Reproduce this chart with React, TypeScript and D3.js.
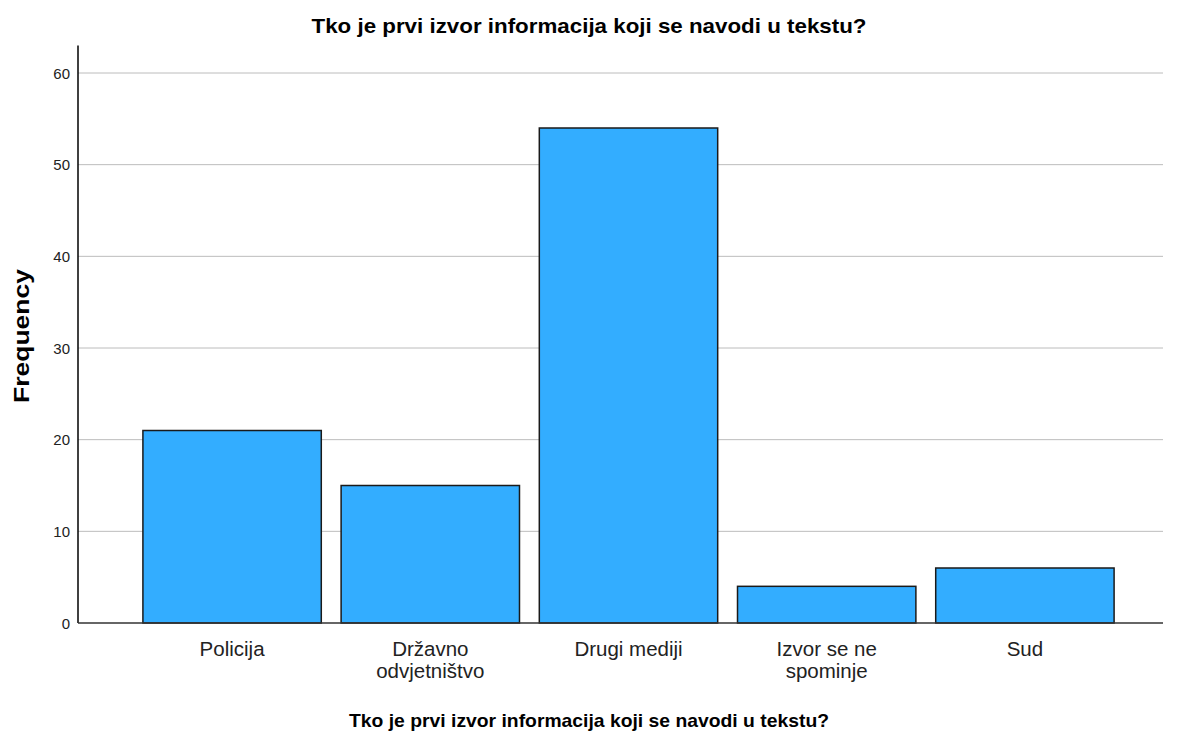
import React from "react";
import * as d3 from "d3";

const categories: string[][] = [
  ["Policija"],
  ["Državno", "odvjetništvo"],
  ["Drugi mediji"],
  ["Izvor se ne", "spominje"],
  ["Sud"],
];
const frequencies: number[] = [21, 15, 54, 4, 6];
const yTicks: number[] = [0, 10, 20, 30, 40, 50, 60];
const titleText = "Tko je prvi izvor informacija koji se navodi u tekstu?";
const xAxisTitle = "Tko je prvi izvor informacija koji se navodi u tekstu?";
const yAxisTitle = "Frequency";

const W = 1177;
const H = 733;
const FONT = "'Liberation Sans', Arial, sans-serif";

export default function App() {
  const keys = categories.map((c) => c.join(" "));
  const x = d3
    .scaleBand<string>()
    .domain(keys)
    .range([133, 1124])
    .paddingInner(0.1)
    .paddingOuter(0.05);
  const y = d3.scaleLinear().domain([0, 60]).range([623, 73]);
  const axisLeft = 78;
  const axisRight = 1163;
  const axisTop = y(63);

  return (
    <div style={{ position: "absolute", left: 0, top: 0 }}>
      <svg width={W} height={H} style={{ display: "block", background: "#fff" }}>
        <text
          x={589}
          y={33}
          textAnchor="middle"
          fontFamily={FONT}
          fontWeight="bold"
          fontSize={21}
          textLength={555}
          lengthAdjust="spacingAndGlyphs"
          fill="#000"
        >
          {titleText}
        </text>
        {yTicks
          .filter((t) => t > 0)
          .map((t) => (
            <line
              key={"g" + t}
              x1={axisLeft}
              x2={axisRight}
              y1={y(t)}
              y2={y(t)}
              stroke="#bcbcbc"
              strokeWidth={1}
            />
          ))}
        {yTicks.map((t) => (
          <text
            key={"t" + t}
            x={70}
            y={y(t) + 5.5}
            textAnchor="end"
            fontFamily={FONT}
            fontSize={15}
            fill="#222"
          >
            {t}
          </text>
        ))}
        {frequencies.map((v, i) => (
          <rect
            key={"b" + i}
            x={x(keys[i])!}
            y={y(v)}
            width={x.bandwidth()}
            height={y(0) - y(v)}
            fill="#33adff"
            stroke="#1a1a1a"
            strokeWidth={1.5}
          />
        ))}
        <line x1={axisLeft} x2={axisLeft} y1={axisTop} y2={y(0)} stroke="#000" strokeWidth={1.5} />
        <line x1={axisLeft} x2={axisRight} y1={y(0)} y2={y(0)} stroke="#333" strokeWidth={1.5} />
        {categories.map((lines, i) => (
          <text
            key={"c" + i}
            textAnchor="middle"
            fontFamily={FONT}
            fontSize={20.5}
            fill="#222"
          >
            {lines.map((ln, j) => (
              <tspan key={j} x={x(keys[i])! + x.bandwidth() / 2} y={656 + j * 22}>
                {ln}
              </tspan>
            ))}
          </text>
        ))}
        <text
          x={589}
          y={727}
          textAnchor="middle"
          fontFamily={FONT}
          fontWeight="bold"
          fontSize={19}
          textLength={480}
          lengthAdjust="spacingAndGlyphs"
          fill="#000"
        >
          {xAxisTitle}
        </text>
        <text
          transform={`translate(29, 336) rotate(-90)`}
          textAnchor="middle"
          fontFamily={FONT}
          fontWeight="bold"
          fontSize={22}
          textLength={134}
          lengthAdjust="spacingAndGlyphs"
          fill="#000"
        >
          {yAxisTitle}
        </text>
      </svg>
    </div>
  );
}
